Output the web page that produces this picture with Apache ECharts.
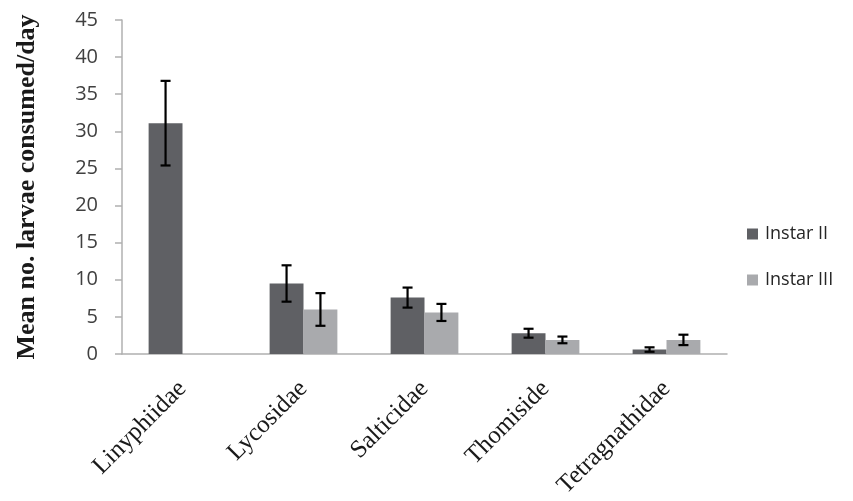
<!DOCTYPE html>
<html>
<head>
<meta charset="utf-8">
<script src="https://cdn.jsdelivr.net/npm/echarts@6/dist/echarts.min.js"></script>
<style>
  html, body { margin: 0; padding: 0; background: #fff; }
  #chart { width: 853px; height: 501px; }
</style>
</head>
<body>
<div id="chart"></div>
<script>
// Spider families tested as predators
const families = ['Linyphiidae', 'Lycosidae', 'Salticidae', 'Thomiside', 'Tetragnathidae'];
// Mean number of larvae consumed per day
const instarII = [31.1, 9.5, 7.6, 2.8, 0.6];
const instarIII = [null, 6.0, 5.6, 1.9, 1.9];
// Standard errors
const errII = [5.7, 2.45, 1.35, 0.6, 0.3];
const errIII = [null, 2.2, 1.15, 0.45, 0.7];
const yTicks = [0, 5, 10, 15, 20, 25, 30, 35, 40, 45];

const seriesNames = ['Instar II', 'Instar III'];
const colors = ['#5f6064', '#a9aaad'];
const BAR_FRAC = 0.28;

function errorSeries(means, errs, slot) {
  const data = means.map((m, i) => (m == null ? null : [i, m, errs[i]])).filter(d => d);
  return {
    type: 'custom',
    silent: true,
    z: 5,
    data: data,
    renderItem: function (params, api) {
      const idx = api.value(0);
      const mean = api.value(1);
      const err = api.value(2);
      const band = api.size([1, 0])[0];
      const bw = band * BAR_FRAC;
      const base = api.coord([idx, mean]);
      const x = base[0] + (slot === 0 ? -bw / 2 : bw / 2);
      const top = api.coord([idx, mean + err])[1];
      const bot = api.coord([idx, mean - err])[1];
      const cap = 5;
      const style = { stroke: '#000', lineWidth: 2.2 };
      return {
        type: 'group',
        children: [
          { type: 'line', shape: { x1: x, y1: top, x2: x, y2: bot }, style: style },
          { type: 'line', shape: { x1: x - cap, y1: top, x2: x + cap, y2: top }, style: style },
          { type: 'line', shape: { x1: x - cap, y1: bot, x2: x + cap, y2: bot }, style: style }
        ]
      };
    }
  };
}

const chart = echarts.init(document.getElementById('chart'), null, { renderer: 'canvas' });
chart.setOption({
  animation: false,
  backgroundColor: '#ffffff',
  grid: { left: 122, right: 126, top: 20, bottom: 147 },
  legend: {
    orient: 'vertical',
    left: 742,
    top: 220,
    itemWidth: 11,
    itemHeight: 11,
    itemGap: 28,
    icon: 'rect',
    data: seriesNames,
    textStyle: { fontFamily: 'Open Sans', fontSize: 18, color: '#262626', padding: [0, 0, 0, 2] }
  },
  xAxis: {
    type: 'category',
    data: families,
    axisLine: { lineStyle: { color: '#b0b0b0', width: 1.5 } },
    axisTick: { show: false },
    axisLabel: {
      rotate: 45,
      interval: 0,
      margin: 31,
      fontFamily: 'Liberation Serif',
      fontSize: 25,
      color: '#1a1a1a'
    }
  },
  yAxis: {
    type: 'value',
    min: 0,
    max: 45,
    interval: 5,
    name: 'Mean no. larvae consumed/day',
    nameLocation: 'middle',
    nameGap: 82,
    nameTextStyle: { fontFamily: 'Liberation Serif', fontWeight: 'bold', fontSize: 26, color: '#1a1a1a' },
    splitLine: { show: false },
    axisLine: { show: true, lineStyle: { color: '#b0b0b0', width: 1.5 } },
    axisTick: { show: true, inside: false, length: 7, lineStyle: { color: '#b0b0b0', width: 1.5 } },
    axisLabel: {
      margin: 24,
      fontFamily: 'Open Sans',
      fontSize: 20,
      color: '#404040',
      formatter: v => (yTicks.indexOf(v) >= 0 ? String(v) : '')
    }
  },
  series: [
    {
      name: seriesNames[0],
      type: 'bar',
      data: instarII,
      barWidth: (BAR_FRAC * 100) + '%',
      barGap: '0%',
      itemStyle: { color: colors[0] }
    },
    {
      name: seriesNames[1],
      type: 'bar',
      data: instarIII.map(v => (v == null ? '-' : v)),
      barWidth: (BAR_FRAC * 100) + '%',
      barGap: '0%',
      itemStyle: { color: colors[1] }
    },
    errorSeries(instarII, errII, 0),
    errorSeries(instarIII, errIII, 1)
  ]
});
</script>
</body>
</html>
